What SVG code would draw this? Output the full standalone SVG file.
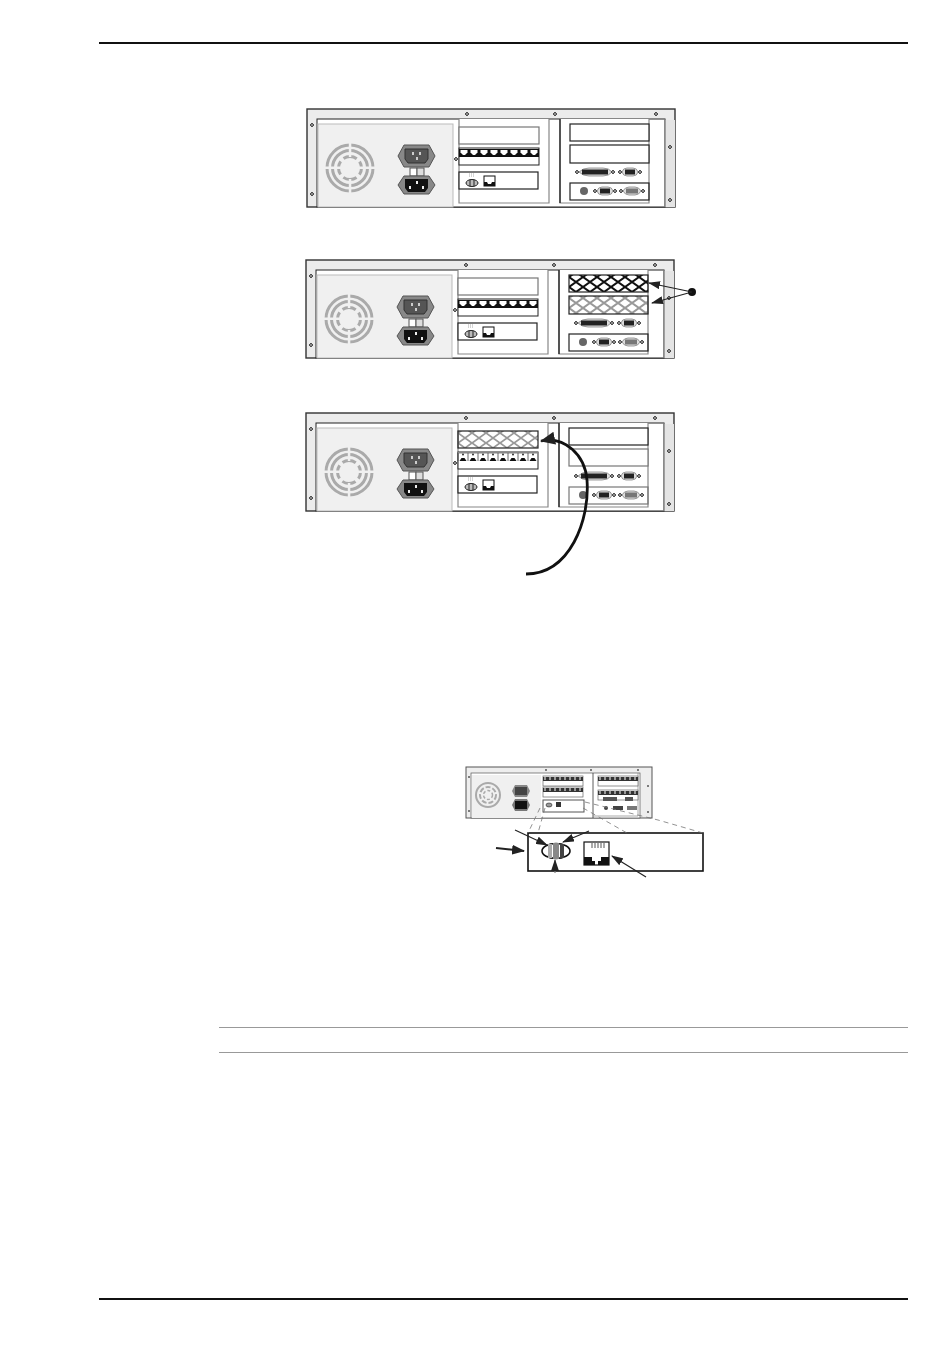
<svg xmlns="http://www.w3.org/2000/svg" xmlns:xlink="http://www.w3.org/1999/xlink" width="950" height="1360" viewBox="0 0 950 1360">
<style>
.rule{stroke:#111;stroke-width:2;fill:none}
.grule{stroke:#999;stroke-width:1;fill:none}
.slot{fill:#fff;stroke:#222;stroke-width:1.2}
.gslot{fill:#fff;stroke:#777;stroke-width:1.2}
.scr{fill:#888;stroke:#333;stroke-width:.8}
.dash{stroke:#777;stroke-width:.8;stroke-dasharray:5 4;fill:none}
.arr{stroke:#222;stroke-width:1.2;fill:none;marker-end:url(#ah)}
</style>
<defs>
<marker id="ah" markerWidth="12" markerHeight="8" refX="11" refY="4" orient="auto" markerUnits="userSpaceOnUse"><path d="M0,0L12,4L0,8z" fill="#222"/></marker>
<marker id="ahm" markerWidth="13" markerHeight="10" refX="12" refY="5" orient="auto" markerUnits="userSpaceOnUse"><path d="M0,0L13,5L0,10z" fill="#222"/></marker>
<marker id="ahb" markerWidth="15" markerHeight="13" refX="14" refY="6.500" orient="auto" markerUnits="userSpaceOnUse"><path d="M0,0L15,6.500L0,13z" fill="#222"/></marker>
<pattern id="hb" width="14" height="10" patternUnits="userSpaceOnUse" x="569" y="277"><path d="M0,0L14,10M14,0L0,10" stroke="#111" stroke-width="2"/></pattern>
<pattern id="hg" width="14" height="10" patternUnits="userSpaceOnUse" x="569" y="298"><path d="M0,0L14,10M14,0L0,10" stroke="#999" stroke-width="2"/></pattern>
<pattern id="hm" width="14" height="10" patternUnits="userSpaceOnUse" x="458" y="433"><path d="M0,0L14,10M14,0L0,10" stroke="#999" stroke-width="1.800"/></pattern>
<g id="screw"><path d="M0,-2L2,0L0,2L-2,0z" class="scr"/></g>
<g id="port"><path d="M1.500,2H8.500V4.500L6,7H4L1.500,4.500z" fill="#fff"/></g>
<g id="port3"><path d="M1.500,9L3.500,6H6.500L8.500,9z" fill="#111"/><circle cx="5" cy="2.500" r="1" fill="#333"/><path d="M0,1V9" stroke="#444" stroke-width=".8"/></g>
<g id="db25"><path d="M-16,0Q-12,-4 -6,-4H8Q14,-4 17,0Q14,4 8,4H-6Q-12,4 -16,0z" fill="#ddd" stroke="#777" stroke-width=".7"/><rect x="-13" y="-2.500" width="26" height="5" fill="#222"/><use xlink:href="#screw" x="-18"/><use xlink:href="#screw" x="18"/></g>
<g id="db9"><path d="M-8,0Q-7,-4 -3,-4H3Q7,-4 8,0Q7,4 3,4H-3Q-7,4 -8,0z" fill="#ddd" stroke="#777" stroke-width=".7"/><rect x="-5" y="-2.500" width="10" height="5" fill="#222"/><use xlink:href="#screw" x="-10"/><use xlink:href="#screw" x="10"/></g>
<g id="db9g"><path d="M-9,0Q-7,-4 -3,-4H3Q7,-4 9,0Q7,4 3,4H-3Q-7,4 -9,0z" fill="#ddd" stroke="#777" stroke-width=".7"/><rect x="-6" y="-2.500" width="12" height="5" fill="#777"/><use xlink:href="#screw" x="-11"/><use xlink:href="#screw" x="11"/></g>
<g id="chassis">
<rect x="1" y="1" width="368" height="98" fill="#ececec" stroke="#333" stroke-width="1.400"/>
<rect x="11" y="11" width="348" height="88" fill="#fff" stroke="#222" stroke-width="1"/>
<rect x="359" y="12" width="10" height="87" fill="#e4e4e4"/>
<path d="M359,11V99" stroke="#888" stroke-width="1.500"/>
<rect x="12" y="16" width="135" height="83" fill="#f0f0f0" stroke="#bbb"/>
<g fill="none" stroke="#aaa" stroke-width="3">
<circle cx="44" cy="60" r="23"/>
<circle cx="44" cy="60" r="17.500"/>
<circle cx="44" cy="60" r="11.500" stroke-dasharray="14 4" stroke-dashoffset="7"/>
</g>
<rect x="17" y="58.500" width="54" height="2.500" fill="#f0f0f0"/>
<rect x="42.800" y="33" width="2.500" height="16" fill="#f0f0f0"/><rect x="42.800" y="71" width="2.500" height="16" fill="#f0f0f0"/>
<path d="M92,48L98,37H123L129,48L123,59H98z" fill="#888" stroke="#555"/>
<path d="M99,41H122V51L119,55H102L99,51z" fill="#555" stroke="#333"/>
<path d="M106,44h2v3h-2zM113,44h2v3h-2zM110,49h2v3h-2z" fill="#ccc"/>
<rect x="104" y="60" width="7" height="8" fill="#fff" stroke="#555"/>
<rect x="111" y="60" width="7" height="8" fill="#ddd" stroke="#555"/>
<path d="M92,77L98,68H123L129,77L123,86H98z" fill="#888" stroke="#555"/>
<path d="M99,71H122V80L119,84H102L99,80z" fill="#111"/>
<path d="M103,78h2v3h-2zM116,78h2v3h-2zM110,73h2v3h-2z" fill="#eee"/>
<path d="M153,11V95H243V11" fill="#fff" stroke="#888" stroke-width="1.200"/>
<path d="M254,11V95H343V11" fill="#fff" stroke="#888" stroke-width="1.200"/>
<path d="M254,11V95" stroke="#111" stroke-width="1.200"/>
<use xlink:href="#screw" x="6" y="17"/><use xlink:href="#screw" x="6" y="86"/>
<use xlink:href="#screw" x="161" y="6"/><use xlink:href="#screw" x="249" y="6"/><use xlink:href="#screw" x="350" y="6"/>
<use xlink:href="#screw" x="364" y="39"/><use xlink:href="#screw" x="364" y="92"/><use xlink:href="#screw" x="150" y="51"/>
<rect x="153" y="64" width="79" height="17" class="slot"/>
<ellipse cx="166" cy="75" rx="6" ry="3.500" fill="#bbb" stroke="#222"/><path d="M164,71.500v7M168,71.500v7" stroke="#222"/>
<path d="M163,66h6M163,68h6" stroke="#aaa" stroke-dasharray="1 1"/>
<rect x="178" y="68" width="11" height="10" fill="#fff" stroke="#111"/><path d="M178,74h3l1,2h3l1,-2h3v4h-11z" fill="#111"/>
<use xlink:href="#db25" x="289" y="64"/><use xlink:href="#db9" x="324" y="64"/>
<use xlink:href="#db9" x="299" y="83"/><use xlink:href="#db9g" x="326" y="83"/>
<circle cx="278" cy="83" r="4" fill="#666"/>
</g>
<g id="rj">
<rect x="0" y="0" width="80" height="17" fill="#fff" stroke="#222"/><rect x="0" y="1" width="80" height="8" fill="#111"/>
<use xlink:href="#port" x="0"/><use xlink:href="#port" x="10"/><use xlink:href="#port" x="20"/><use xlink:href="#port" x="30"/><use xlink:href="#port" x="40"/><use xlink:href="#port" x="50"/><use xlink:href="#port" x="60"/><use xlink:href="#port" x="70"/>
</g>
<g id="rj3">
<rect x="0" y="0" width="80" height="17" fill="#fff" stroke="#222"/><rect x="0" y="0" width="80" height="1.500" fill="#888"/>
<use xlink:href="#port3" x="0"/><use xlink:href="#port3" x="10"/><use xlink:href="#port3" x="20"/><use xlink:href="#port3" x="30"/><use xlink:href="#port3" x="40"/><use xlink:href="#port3" x="50"/><use xlink:href="#port3" x="60"/><use xlink:href="#port3" x="70"/>
</g>
<g id="rjs">
<rect x="0" y="0" width="40" height="10" fill="#fff" stroke="#666" stroke-width=".7"/><rect x="0" y="1" width="40" height="4" fill="#333"/><path d="M2,1v3M7,1v3M12,1v3M17,1v3M22,1v3M27,1v3M32,1v3M37,1v3" stroke="#fff"/>
</g>
</defs>

<g id="frame"><path class="rule" d="M99,43H908M99,1299H908"/><path class="grule" d="M219,1027.500H908M219,1052.500H908"/></g>

<g id="unit1">
<use xlink:href="#chassis" x="306" y="108"/>
<rect x="459" y="127" width="80" height="17" class="gslot"/>
<use xlink:href="#rj" x="459" y="148"/>
<rect x="570" y="124" width="79" height="17" class="slot"/>
<rect x="570" y="145" width="79" height="18" class="slot"/>
<rect x="570" y="183" width="79" height="17" class="slot" style="fill:none"/>
</g>

<g id="unit2">
<use xlink:href="#chassis" x="305" y="259"/>
<rect x="458" y="278" width="80" height="17" class="gslot"/>
<use xlink:href="#rj" x="458" y="299"/>
<rect x="569" y="275" width="79" height="17" class="slot" style="fill:url(#hb)"/>
<rect x="569" y="296" width="79" height="18" class="slot" style="fill:url(#hg)"/>
<rect x="569" y="334" width="79" height="17" class="slot" style="fill:none"/>
</g>
<g id="unit3">
<use xlink:href="#chassis" x="305" y="412"/>
<rect x="458" y="431" width="80" height="17" class="slot" style="fill:url(#hm)"/>
<use xlink:href="#rj3" x="458" y="452"/>
<rect x="569" y="428" width="79" height="17" class="slot"/>
<rect x="569" y="449" width="79" height="17" class="gslot"/>
<rect x="569" y="487" width="79" height="17" class="gslot" style="fill:none"/>
</g>

<g id="unit4">
<rect x="466" y="767" width="186" height="51" fill="#eee" stroke="#555"/>
<rect x="471" y="773" width="169" height="45" fill="#fff" stroke="#555" stroke-width=".7"/>
<rect x="472" y="775" width="69" height="43" fill="#f0f0f0"/>
<circle cx="488" cy="795" r="12" fill="none" stroke="#aaa" stroke-width="2"/><circle cx="488" cy="795" r="8" fill="none" stroke="#aaa" stroke-width="2" stroke-dasharray="5 2"/><circle cx="488" cy="795" r="4.500" fill="none" stroke="#aaa" stroke-width="1.500" stroke-dasharray="3 2"/>
<path d="M512,791l3,-6h12l3,6l-3,6h-12z" fill="#888"/><rect x="515" y="787" width="12" height="8" fill="#444"/>
<path d="M512,805l3,-6h12l3,6l-3,6h-12z" fill="#777"/><rect x="515" y="801" width="12" height="8" fill="#111"/>
<use xlink:href="#rjs" x="543" y="776"/><use xlink:href="#rjs" x="543" y="787"/>
<rect x="543" y="800" width="41" height="12" fill="#fff" stroke="#555"/>
<ellipse cx="549" cy="805" rx="3" ry="2" fill="#999" stroke="#222" stroke-width=".6"/><rect x="556" y="802" width="5" height="5" fill="#333"/>
<path d="M593,773V818" stroke="#333" stroke-width=".8"/><path d="M638,773V816H593" stroke="#888" stroke-width=".7" fill="none"/>
<use xlink:href="#rjs" x="598" y="776"/><use xlink:href="#rjs" x="598" y="790"/>
<rect x="603" y="797" width="14" height="4" fill="#555"/><rect x="625" y="797" width="8" height="4" fill="#555"/>
<circle cx="606" cy="808" r="2" fill="#444"/><rect x="613" y="806" width="10" height="4" fill="#444"/><rect x="627" y="806" width="10" height="4" fill="#777"/>
<g fill="#555"><circle cx="546" cy="770" r="1"/><circle cx="591" cy="770" r="1"/><circle cx="638" cy="770" r="1"/><circle cx="469" cy="777" r="1"/><circle cx="469" cy="811" r="1"/><circle cx="648" cy="786" r="1"/><circle cx="648" cy="812" r="1"/></g>
</g>

<g id="detail">
<rect x="528" y="833" width="175" height="38" fill="#fff" stroke="#111" stroke-width="1.600"/>
<ellipse cx="556" cy="851" rx="14" ry="7.500" fill="#fff" stroke="#111" stroke-width="1.600"/>
<rect x="548" y="844" width="4" height="14" fill="#aaa"/><rect x="553" y="843" width="6" height="16" fill="#888"/><rect x="560" y="844" width="4" height="14" fill="#444"/>
<rect x="584" y="842" width="25" height="23" fill="#fff" stroke="#111" stroke-width="1.200"/>
<path d="M584,857h8v4h3v4h3v-4h3v-4h8v8h-25z" fill="#111"/>
<path d="M592,843v5M595,843v5M598,843v5M601,843v5M604,843v5" stroke="#555"/>
</g>

<g id="connectors">
<path class="dash" d="M540,808L528,833M545,808L538,833M583,808L627,833M585,802L658,820L703,833"/>
<path class="arr" d="M515,830L547,845"/>
<path class="arr" d="M589,831L563,842"/>
<path d="M496,848L524,851" fill="none" stroke="#222" stroke-width="2" marker-end="url(#ahm)"/>
<path class="arr" d="M555,873L555,860" style="stroke:#777"/>
<path class="arr" d="M646,877L612,856"/>
<circle cx="692" cy="292" r="4" fill="#111"/>
<path class="arr" d="M692,292L649,283"/>
<path class="arr" d="M692,292L652,303"/>
<path d="M526,574C570,574 590,520 587,480C585,455 565,436 541,441" fill="none" stroke="#111" stroke-width="2.800" marker-end="url(#ahb)"/>
</g>
</svg>
